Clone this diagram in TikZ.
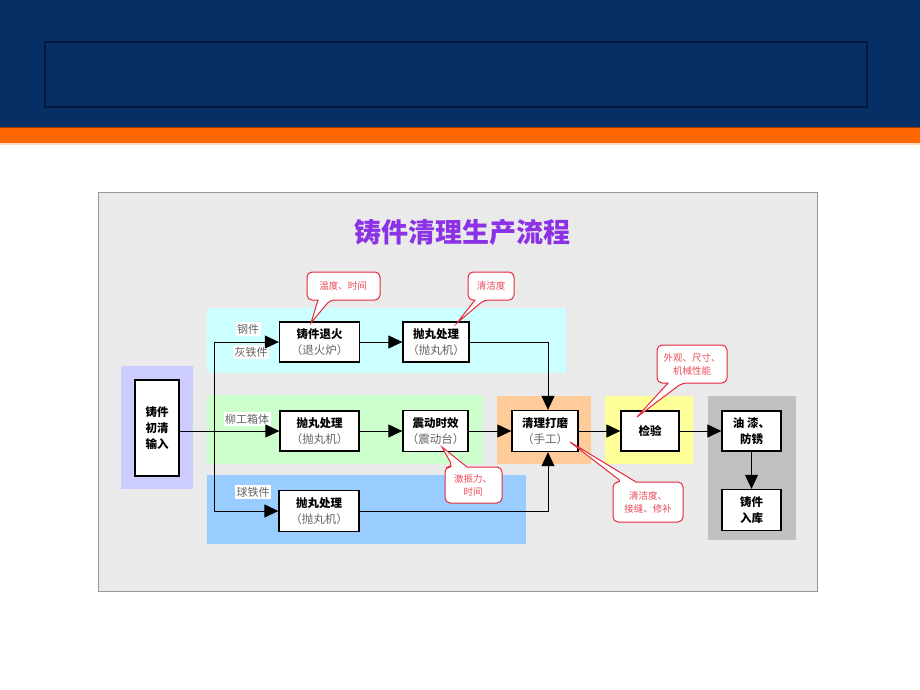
\documentclass[tikz,border=0pt]{standalone}
\usepackage{fontspec}
\setmainfont{Noto Sans CJK SC}
\usetikzlibrary{arrows.meta}
\definecolor{hdrblue}{RGB}{8,46,102}
\definecolor{hdrdark}{RGB}{3,24,62}
\definecolor{hdrorange}{RGB}{255,102,0}
\definecolor{panelgray}{RGB}{234,234,234}
\definecolor{bandcyan}{RGB}{204,255,255}
\definecolor{bandgreen}{RGB}{204,255,204}
\definecolor{bandblue}{RGB}{153,204,255}
\definecolor{bandorange}{RGB}{255,204,153}
\definecolor{bandyellow}{RGB}{255,255,153}
\definecolor{bandgray}{RGB}{192,192,192}
\definecolor{bandpurple}{RGB}{204,204,255}
\definecolor{titlepurple}{RGB}{140,50,230}
\definecolor{calred}{RGB}{228,40,60}
\definecolor{caltext}{RGB}{235,75,90}
\definecolor{subgray}{RGB}{100,100,100}
\begin{document}
\begin{tikzpicture}[x=1pt,y=-1pt,
  box/.style={draw=black, line width=1.3pt, fill=white, inner sep=0pt, align=center,
    font=\fontsize{11.5}{16}\selectfont},
  arr/.style={line width=1pt, -{Triangle[length=14pt,width=13pt]}},
  ln/.style={line width=1pt},
  lbl/.style={fill=white, text=subgray, font=\fontsize{11}{13}\selectfont, inner sep=1.5pt},
  note/.style={draw=calred, fill=white, line width=1pt, rounded corners=5pt},
  notetext/.style={text=caltext, font=\fontsize{9.5}{13}\selectfont, align=center, inner sep=0pt}]
\useasboundingbox (0,0) rectangle (920,690);
% header
\fill[white] (0,0) rectangle (920,690);
\fill[hdrblue] (0,0) rectangle (920,127);
\draw[hdrdark, line width=1.2pt] (45,42) rectangle (867,107);
\fill[hdrorange] (0,127) rectangle (920,143);
\draw[hdrorange!60!black, line width=0.8pt] (0,127.4) -- (920,127.4);
\fill[hdrorange!25] (0,143) rectangle (920,145);
% panel
\draw[panelgray!65!black, fill=panelgray, line width=0.6pt] (98,192) rectangle (817,591);
\node[text=titlepurple, font=\fontsize{27}{30}\selectfont\bfseries] (title) at (462,232) {铸件清理生产流程};
% bands
\fill[bandcyan] (207,308) rectangle (566,373);
\fill[bandgreen] (207,395) rectangle (483,464);
\fill[bandblue] (207,475) rectangle (526,544);
\fill[bandorange] (497,396) rectangle (591,464);
\fill[bandyellow] (605,396) rectangle (693,464);
\fill[bandgray] (708,396) rectangle (796,540);
\fill[bandpurple] (121,366) rectangle (193,489);
% labels
\node[lbl] (l1) at (248,329) {钢件};
\node[lbl] (l2) at (251,352) {灰铁件};
\node[lbl] (l3) at (247,419) {柳工箱体};
\node[lbl] (l4) at (253,492) {球铁件};
% boxes
\node[box, minimum width=44pt, minimum height=96pt] (in) at (157,428) {\bfseries 铸件\\\bfseries 初清\\\bfseries 输入};
\node[box, minimum width=80pt, minimum height=40pt] (anneal) at (319.5,342) {\bfseries 铸件退火\\\textcolor{subgray}{（退火炉）}};
\node[box, minimum width=66pt, minimum height=40pt] (shot1) at (436,342) {\bfseries 抛丸处理\\\textcolor{subgray}{（抛丸机）}};
\node[box, minimum width=79pt, minimum height=40pt] (shot2) at (319.5,431) {\bfseries 抛丸处理\\\textcolor{subgray}{（抛丸机）}};
\node[box, minimum width=65pt, minimum height=41pt] (vib) at (435.5,431) {\bfseries 震动时效\\\textcolor{subgray}{（震动台）}};
\node[box, minimum width=66pt, minimum height=41pt] (clean) at (545,431) {\bfseries 清理打磨\\\textcolor{subgray}{（手工）}};
\node[box, minimum width=80pt, minimum height=41pt] (shot3) at (319,511) {\bfseries 抛丸处理\\\textcolor{subgray}{（抛丸机）}};
\node[box, minimum width=58pt, minimum height=40pt] (insp) at (650,431) {\bfseries 检验};
\node[box, minimum width=59pt, minimum height=40pt] (paint) at (751.5,431) {\bfseries 油 漆、\\\bfseries 防锈};
\node[box, minimum width=59pt, minimum height=41pt] (store) at (751.5,510) {\bfseries 铸件\\\bfseries 入库};
% connectors
\coordinate (jt) at (214,342);
\coordinate (jb) at (214,511);
\draw[arr] (in.east |- shot2) -- (shot2.west);
\draw[ln] (jt) -- (jb);
\draw[arr] (jt) -- (anneal.west);
\draw[arr] (jb) -- (shot3.west);
\draw[arr] (anneal.east) -- (shot1.west);
\draw[arr] (shot1.east) -| ([xshift=3pt]clean.north);
\draw[arr] (shot2.east) -- (vib.west);
\draw[arr] (vib.east) -- (clean.west);
\draw[arr] (shot3.east) -| ([xshift=3pt]clean.south);
\draw[arr] (clean.east) -- (insp.west);
\draw[arr] (insp.east) -- (paint.west);
\draw[arr] (paint.south) -- (store.north);
% callouts
\draw[note] (343,272) -- (380,272) -- (380,300) -- (330,300) [sharp corners] -- (311,323) -- (318,300) [rounded corners=5pt] -- (307,300) -- (307,272) -- cycle;
\node[notetext] (c1) at (343,286) {温度、时间};
\draw[note] (491,272) -- (514,272) -- (514,300) -- (484,300) [sharp corners] -- (457,323) -- (475,300) [rounded corners=5pt] -- (468,300) -- (468,272) -- cycle;
\node[notetext] (c2) at (491,286) {清洁度};
\draw[note] (692,345) -- (727,345) -- (727,383) -- (682,383) [sharp corners] -- (637,417) -- (668,383) [rounded corners=5pt] -- (657,383) -- (657,345) -- cycle;
\node[notetext] (c3) at (692,364) {外观、尺寸、\\机械性能};
\draw[note] (473,503) -- (445,503) -- (445,467) -- (453,467) [sharp corners] -- (442,447) -- (467,467) [rounded corners=5pt] -- (502,467) -- (502,503) -- cycle;
\node[notetext] (c4) at (473,485) {激振力、\\时间};
\draw[note] (648,522) -- (613,522) -- (613,482) -- (622,482) [sharp corners] -- (570,442) -- (636,482) [rounded corners=5pt] -- (683,482) -- (683,522) -- cycle;
\node[notetext] (c5) at (648,502) {清洁度、\\接缝、修补};
\end{tikzpicture}
\end{document}
